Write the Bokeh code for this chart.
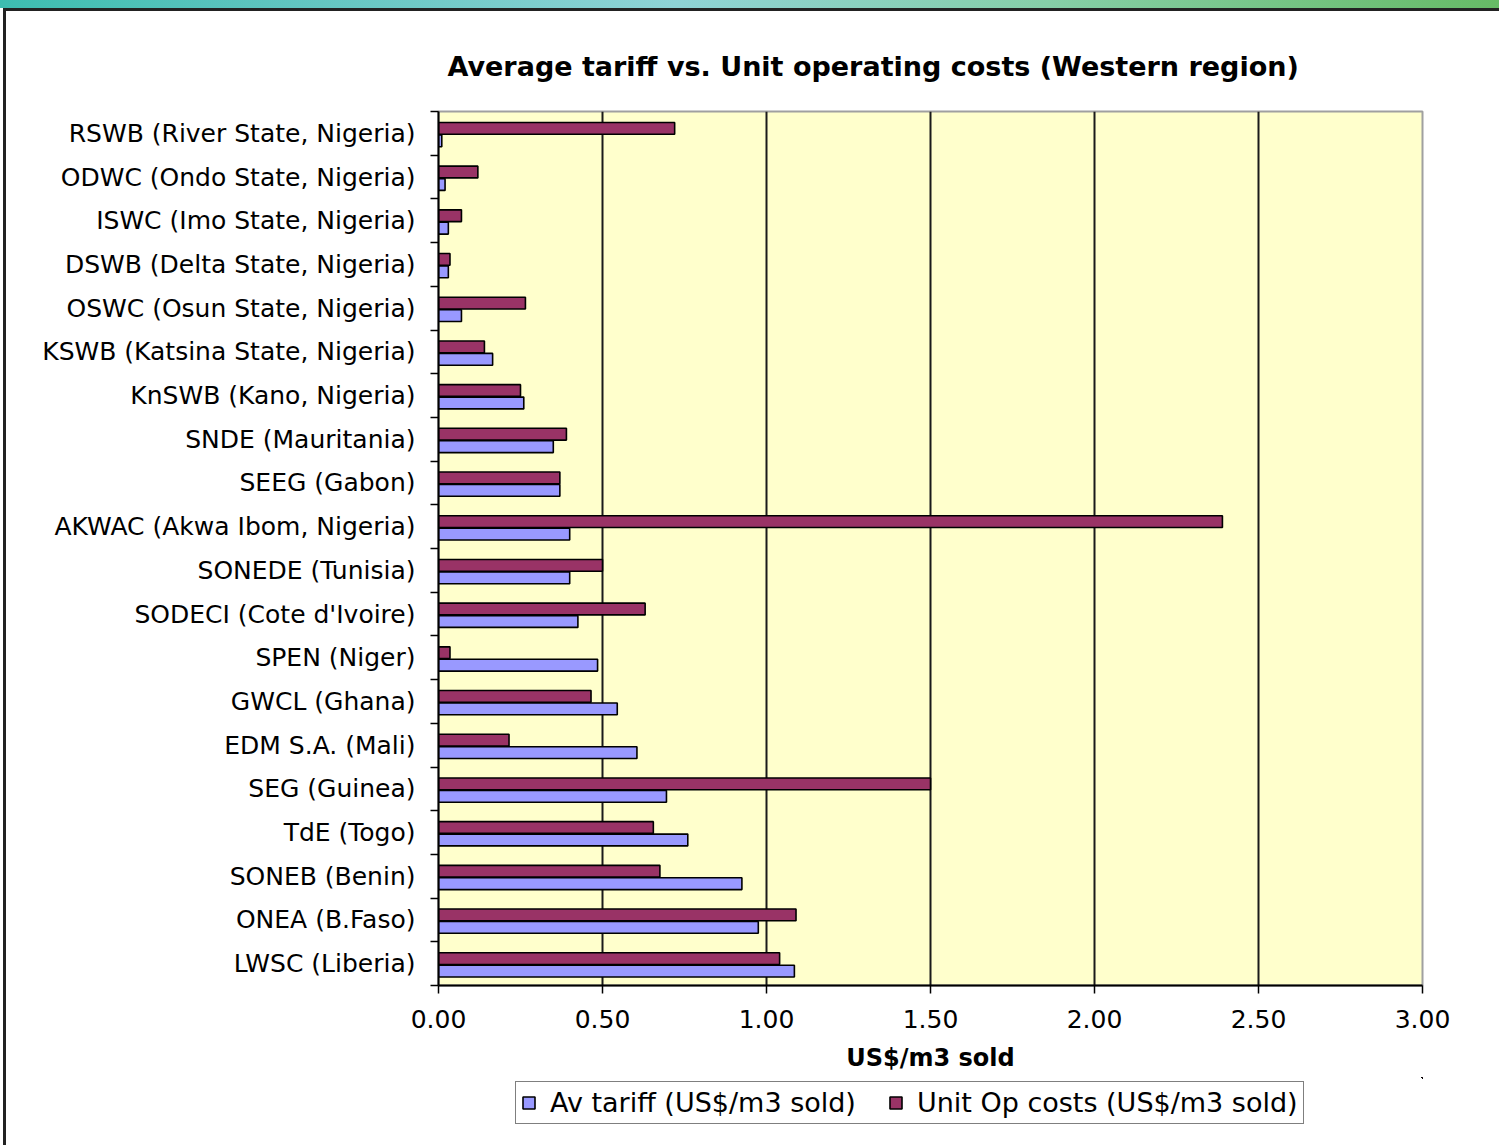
from bokeh.plotting import figure
from bokeh.layouts import column
from bokeh.models import (ColumnDataSource, FixedTicker, Legend, LegendItem,
                          Range1d, NumeralTickFormatter)
from bokeh.transform import dodge
from bokeh.embed import file_html
from bokeh.resources import INLINE

utilities = [
    "RSWB (River State, Nigeria)",
    "ODWC (Ondo State, Nigeria)",
    "ISWC (Imo State, Nigeria)",
    "DSWB (Delta State, Nigeria)",
    "OSWC (Osun State, Nigeria)",
    "KSWB (Katsina State, Nigeria)",
    "KnSWB (Kano, Nigeria)",
    "SNDE (Mauritania)",
    "SEEG (Gabon)",
    "AKWAC (Akwa Ibom, Nigeria)",
    "SONEDE (Tunisia)",
    "SODECI (Cote d'Ivoire)",
    "SPEN (Niger)",
    "GWCL (Ghana)",
    "EDM S.A. (Mali)",
    "SEG (Guinea)",
    "TdE (Togo)",
    "SONEB (Benin)",
    "ONEA (B.Faso)",
    "LWSC (Liberia)",
]
av_tariff = [0.01, 0.02, 0.03, 0.03, 0.07, 0.165, 0.26, 0.35, 0.37, 0.40,
             0.40, 0.425, 0.485, 0.545, 0.605, 0.695, 0.76, 0.925, 0.975, 1.085]
unit_op_costs = [0.72, 0.12, 0.07, 0.035, 0.265, 0.14, 0.25, 0.39, 0.37, 2.39,
                 0.50, 0.63, 0.035, 0.465, 0.215, 1.50, 0.655, 0.675, 1.09, 1.04]
x_ticks = [0.0, 0.5, 1.0, 1.5, 2.0, 2.5, 3.0]

title_text = "Average tariff vs. Unit operating costs (Western region)"
x_label = "US$/m3 sold"
series_names = ["Av tariff (US$/m3 sold)", "Unit Op costs (US$/m3 sold)"]

FONT = "DejaVu Sans"
FS = "25px"
TARIFF_COLOR = "#9999FF"
COST_COLOR = "#993366"

n = len(utilities)
pos = [n - i - 0.5 for i in range(n)]
src = ColumnDataSource(dict(name=utilities, tariff=av_tariff,
                            cost=unit_op_costs, pos=pos))

page_bg = ("linear-gradient(to right, #3dbcb0, #8fd3d6 45%, #86cfa8 70%, #66bb66) "
           "0 0 / 100% 8px no-repeat, "
           "linear-gradient(#222, #222) 3px 8px / 3px 100% no-repeat, "
           "linear-gradient(#222, #222) 3px 8px / 100% 3px no-repeat, white")
page_bg2 = "linear-gradient(#222, #222) 3px 0 / 3px 100% no-repeat, white"

p = figure(frame_width=984, frame_height=874, output_backend="svg",
           toolbar_location=None,
           x_range=Range1d(x_ticks[0], x_ticks[-1]), y_range=Range1d(0, n),
           min_border_left=438, min_border_right=77, min_border_top=111,
           min_border_bottom=92, background_fill_color="#FFFFCC",
           border_fill_color=None,
           styles={"background": page_bg})

p.title.text = title_text
p.title.text_font = FONT
p.title.text_font_size = "27px"
p.title.text_font_style = "bold"
p.title.text_color = "black"
p.title.align = "left"
p.title.offset = 9
p.title.standoff = 60

p.outline_line_color = "#a0a0a0"
p.outline_line_width = 2

r_t = p.hbar(y=dodge("pos", -0.17, range=p.y_range), left=0, right="tariff",
             height=0.27, fill_color=TARIFF_COLOR, line_color="black",
             line_width=1.6, source=src)
r_c = p.hbar(y=dodge("pos", 0.115, range=p.y_range), left=0, right="cost",
             height=0.27, fill_color=COST_COLOR, line_color="black",
             line_width=1.6, source=src)

# x axis
xa = p.xaxis[0]
xa.ticker = FixedTicker(ticks=x_ticks, minor_ticks=[])
xa.formatter = NumeralTickFormatter(format="0.00")
xa.axis_label = x_label
xa.axis_label_text_font = FONT
xa.axis_label_text_font_style = "bold"
xa.axis_label_text_font_size = "24px"
xa.axis_label_text_color = "black"
xa.axis_label_standoff = 13
xa.major_label_text_font = FONT
xa.major_label_text_font_size = FS
xa.major_label_text_color = "black"
xa.major_label_standoff = 16
xa.major_tick_out = 8
xa.major_tick_in = 0
xa.major_tick_line_width = 1.5
xa.axis_line_width = 2
xa.axis_line_color = "black"

# y axis
ya = p.yaxis[0]
ya.ticker = FixedTicker(ticks=pos, minor_ticks=list(range(n + 1)))
ya.major_label_overrides = {pv: nm for pv, nm in zip(pos, utilities)}
ya.major_label_text_font = FONT
ya.major_label_text_font_size = FS
ya.major_label_text_color = "black"
ya.major_tick_line_color = None
ya.major_tick_out = 0
ya.major_tick_in = 0
ya.major_label_standoff = 15
ya.minor_tick_out = 8
ya.minor_tick_in = 0
ya.minor_tick_line_color = "black"
ya.minor_tick_line_width = 1.5
ya.axis_line_width = 2
ya.axis_line_color = "black"

p.xgrid.ticker = FixedTicker(ticks=x_ticks[1:-1])
p.xgrid.grid_line_color = "#1a1a1a"
p.xgrid.grid_line_width = 2
p.ygrid.grid_line_color = None

# legend strip below the chart (its frame is aligned with the chart's frame);
# its renderers lie outside its ranges, so only the legend shows
p2 = figure(width=1499, height=68, output_backend="svg", toolbar_location=None,
            x_axis_location=None, y_axis_location=None, min_border=0,
            x_range=Range1d(-10, -9), y_range=Range1d(-10, -9),
            background_fill_color=None, border_fill_color=None,
            outline_line_color=None, styles={"background": page_bg2})
p2.grid.visible = False
l_t = p2.hbar(y="pos", left=0, right="tariff", height=0.27,
              fill_color=TARIFF_COLOR, line_color="black", line_width=1.6,
              source=src)
l_c = p2.hbar(y="pos", left=0, right="cost", height=0.27,
              fill_color=COST_COLOR, line_color="black", line_width=1.6,
              source=src)

legend = Legend(items=[LegendItem(label=series_names[0], renderers=[l_t]),
                       LegendItem(label=series_names[1], renderers=[l_c])],
                orientation="horizontal", location=(77, 21),
                border_line_color="black", border_line_width=1.5,
                label_text_font=FONT, label_text_font_size="27px",
                label_text_color="black",
                glyph_width=15, glyph_height=15, padding=5, spacing=32,
                label_standoff=14, margin=0, background_fill_color="white")
p2.add_layout(legend)

layout = column(p, p2, spacing=0)
open("out.html", "w").write(file_html(layout, INLINE))
